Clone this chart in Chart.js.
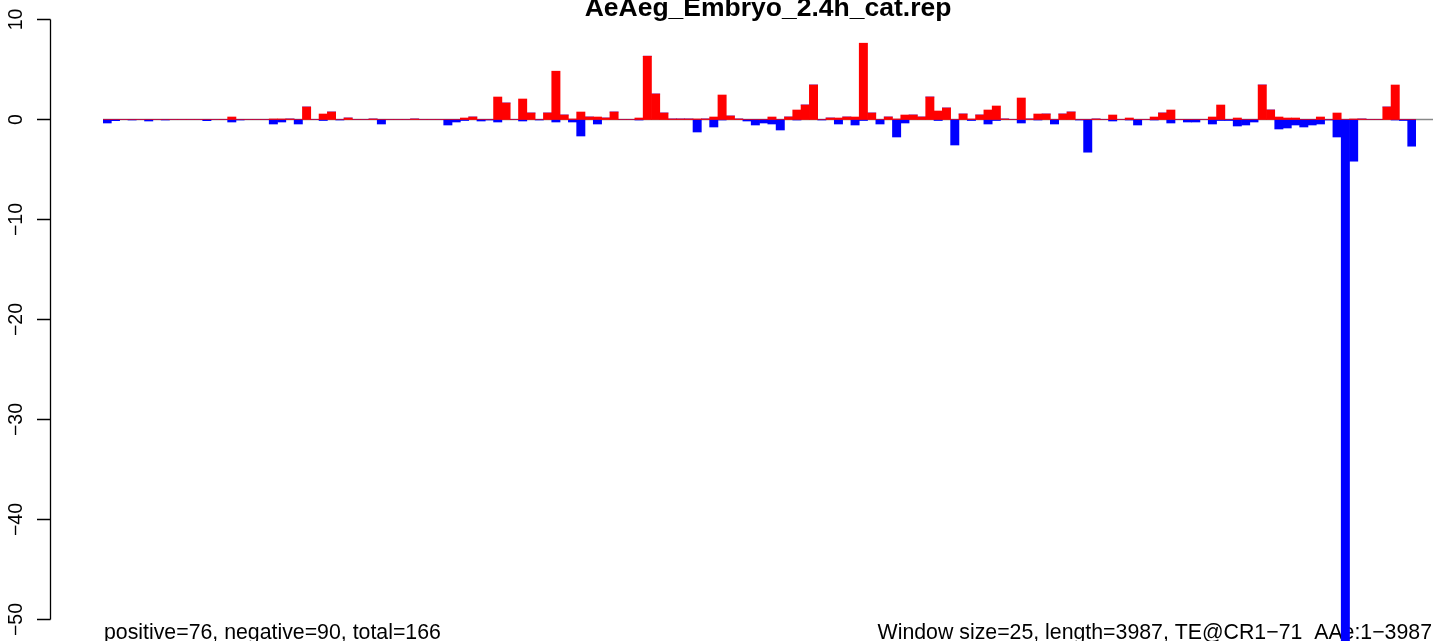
<!DOCTYPE html>
<html>
<head>
<meta charset="utf-8">
<title>AeAeg_Embryo_2.4h_cat.rep</title>
<script src="https://cdn.jsdelivr.net/npm/chart.js@4.4.1/dist/chart.umd.min.js"></script>
<style>
    html, body { margin: 0; padding: 0; background: #fff; }
    #wrap { width: 1433px; height: 641px; }
</style>
</head>
<body>
<div id="wrap"><canvas id="chart" width="1433" height="641"></canvas></div>
<script>
// Titre et textes du bas
const title = 'AeAeg_Embryo_2.4h_cat.rep'
const leftNote = 'positive=76, negative=90, total=166'
const rightNote = 'Window size=25, length=3987, TE@CR1\u221271_AAe:1\u22123987'

// Graduations de l'axe y
const yTicks = [10, 0, -10, -20, -30, -40, -50]

// Valeurs positives (rouge) par fenêtre
const posValues = [
    0, 0, 0, 0, 0, 0, 0, 0, 0, 0,
    0, 0, 0, 0, 0, 0.25, 0, 0, 0, 0,
    0.05, 0.05, 0.05, 0, 1.25, 0, 0.55, 0.75, 0, 0.15,
    0, 0, 0.05, 0, 0, 0, 0, 0.05, 0, 0,
    0, 0, 0, 0.15, 0.25, 0, 0, 2.25, 1.65, 0,
    2.05, 0.65, 0, 0.65, 4.83, 0.45, 0.05, 0.75, 0.25, 0.25,
    0.15, 0.75, 0, 0, 0.15, 6.33, 2.55, 0.65, 0.05, 0.05,
    0.05, 0.05, 0.05, 0.25, 2.45, 0.35, 0.05, 0, 0, 0,
    0.25, 0, 0.25, 0.95, 1.45, 3.45, 0, 0.15, 0.15, 0.25,
    0.25, 7.63, 0.65, 0, 0.25, 0.05, 0.45, 0.45, 0.25, 2.25,
    0.85, 1.15, 0, 0.55, 0.05, 0.45, 0.95, 1.35, 0.05, 0,
    2.15, 0.05, 0.55, 0.55, 0, 0.55, 0.75, 0, 0, 0.05,
    0, 0.45, 0, 0.15, 0, 0, 0.25, 0.65, 0.95, 0,
    0, 0, 0, 0.25, 1.45, 0, 0.15, 0, 0, 3.45,
    0.95, 0.25, 0.15, 0.15, 0, 0, 0.25, 0, 0.65, 0,
    0.05, 0.05, 0, 0, 1.25, 3.45, 0, 0
]

// Valeurs négatives (bleu) par fenêtre
const negValues = [
    -0.35, -0.12, 0, -0.05, 0, -0.15, 0, -0.05, 0, 0,
    0, 0, -0.12, 0, 0, -0.25, -0.05, 0, 0, 0,
    -0.45, -0.25, 0, -0.45, 0, 0, -0.1, 0, -0.05, 0,
    0, 0, 0, -0.45, 0, 0, 0, 0, 0, 0,
    0, -0.55, -0.25, -0.1, 0, -0.15, -0.05, -0.25, 0, 0,
    -0.15, 0, -0.05, 0, -0.25, 0, -0.25, -1.65, 0, -0.45,
    0, 0, 0, 0, -0.05, 0, 0, 0, 0, 0,
    0, -1.25, 0, -0.75, -0.05, 0, 0, -0.15, -0.55, -0.35,
    -0.45, -1.05, 0, -0.05, 0, 0, -0.05, 0, -0.45, 0,
    -0.55, -0.1, 0, -0.45, 0, -1.75, -0.35, 0, 0, 0,
    -0.1, 0, -2.55, 0, -0.1, 0, -0.45, -0.1, 0, 0,
    -0.35, 0, -0.05, 0, -0.45, 0, 0, -0.05, -3.27, 0,
    0, -0.15, 0, -0.05, -0.55, 0, -0.05, 0, -0.35, 0,
    -0.25, -0.25, 0, -0.45, -0.1, -0.1, -0.65, -0.55, -0.25, 0,
    0, -0.95, -0.85, -0.55, -0.75, -0.55, -0.45, -0.05, -1.75, -60,
    -4.17, 0, 0, 0, 0, -0.05, -0.1, -2.67
]

// Une étiquette par fenêtre (numéro de fenêtre)
const windows = posValues.map((v, i) => i + 1)

const FONT = '"Liberation Sans", Arial, Helvetica, sans-serif'

// Dessine le titre, les notes du bas et la ligne du zéro (sous les barres)
const backgroundPlugin = {
    id: 'background',
    beforeDatasetsDraw(chart) {
        const ctx = chart.ctx
        const y = chart.scales.y
        const x = chart.scales.x
        ctx.save()
        ctx.fillStyle = '#000'

        ctx.font = 'bold 26.5px ' + FONT
        ctx.textAlign = 'center'
        ctx.textBaseline = 'alphabetic'
        ctx.fillText(title, 768, 16)

        ctx.font = '21.3px ' + FONT
        ctx.textAlign = 'left'
        ctx.fillText(leftNote, 104, 639)
        ctx.textAlign = 'right'
        ctx.fillText(rightNote, 1432, 639)

        // Ligne du zéro
        ctx.strokeStyle = '#888'
        ctx.lineWidth = 1.3
        ctx.beginPath()
        ctx.moveTo(x.left, y.getPixelForValue(0))
        ctx.lineTo(chart.width, y.getPixelForValue(0))
        ctx.stroke()
        ctx.restore()
    }
}

// Axe y dans le style de R : ligne, graduations et étiquettes tournées
const rAxisPlugin = {
    id: 'rAxis',
    afterDraw(chart) {
        const ctx = chart.ctx
        const y = chart.scales.y
        const axisX = 50.5
        ctx.save()
        ctx.strokeStyle = '#000'
        ctx.lineWidth = 1.3
        ctx.beginPath()
        ctx.moveTo(axisX, y.getPixelForValue(yTicks[0]))
        ctx.lineTo(axisX, y.getPixelForValue(yTicks[yTicks.length - 1]))
        yTicks.forEach(t => {
            const py = y.getPixelForValue(t)
            ctx.moveTo(37, py)
            ctx.lineTo(axisX, py)
        })
        ctx.stroke()

        ctx.fillStyle = '#000'
        ctx.font = '19.5px ' + FONT
        ctx.textAlign = 'center'
        ctx.textBaseline = 'alphabetic'
        yTicks.forEach(t => {
            const py = y.getPixelForValue(t)
            ctx.save()
            ctx.translate(21.5, py)
            ctx.rotate(-Math.PI / 2)
            ctx.fillText(String(t).replace('-', '\u2212'), 0, 0)
            ctx.restore()
        })
        ctx.restore()
    }
}

new Chart(document.getElementById('chart'), {
    type: 'bar',
    data: {
        labels: windows,
        datasets: [
            {
                data: posValues,
                backgroundColor: '#ff0000',
                borderWidth: 0,
                barPercentage: 1,
                categoryPercentage: 1
            },
            {
                data: negValues,
                backgroundColor: '#0000ff',
                borderWidth: 0,
                barPercentage: 1,
                categoryPercentage: 1
            }
        ]
    },
    options: {
        responsive: false,
        animation: false,
        devicePixelRatio: 1,
        layout: {
            padding: { left: 103, right: 17, top: 0, bottom: 0 }
        },
        plugins: {
            legend: { display: false },
            tooltip: { enabled: false },
            title: { display: false }
        },
        scales: {
            x: { stacked: true, display: false },
            y: { stacked: true, display: false, min: -52.15, max: 11.95 }
        }
    },
    plugins: [backgroundPlugin, rAxisPlugin]
})
</script>
</body>
</html>
